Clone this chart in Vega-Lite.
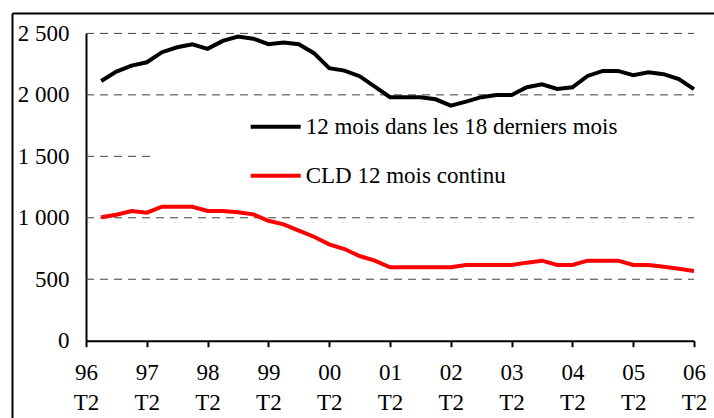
{
  "$schema": "https://vega.github.io/schema/vega-lite/v6.json",
  "width": 702,
  "height": 405,
  "autosize": {"type": "none"},
  "padding": {"left": 12, "top": 13, "right": 0, "bottom": 0},
  "background": "white",
  "config": {"view": {"stroke": null}, "font": "Liberation Serif"},
  "datasets": {
    "series": [
      {"q": 1, "s": "12 mois dans les 18 derniers mois", "v": 2113},
      {"q": 2, "s": "12 mois dans les 18 derniers mois", "v": 2189},
      {"q": 3, "s": "12 mois dans les 18 derniers mois", "v": 2238},
      {"q": 4, "s": "12 mois dans les 18 derniers mois", "v": 2265},
      {"q": 5, "s": "12 mois dans les 18 derniers mois", "v": 2347},
      {"q": 6, "s": "12 mois dans les 18 derniers mois", "v": 2387},
      {"q": 7, "s": "12 mois dans les 18 derniers mois", "v": 2412},
      {"q": 8, "s": "12 mois dans les 18 derniers mois", "v": 2374},
      {"q": 9, "s": "12 mois dans les 18 derniers mois", "v": 2439},
      {"q": 10, "s": "12 mois dans les 18 derniers mois", "v": 2474},
      {"q": 11, "s": "12 mois dans les 18 derniers mois", "v": 2457},
      {"q": 12, "s": "12 mois dans les 18 derniers mois", "v": 2412},
      {"q": 13, "s": "12 mois dans les 18 derniers mois", "v": 2425},
      {"q": 14, "s": "12 mois dans les 18 derniers mois", "v": 2412},
      {"q": 15, "s": "12 mois dans les 18 derniers mois", "v": 2339},
      {"q": 16, "s": "12 mois dans les 18 derniers mois", "v": 2217},
      {"q": 17, "s": "12 mois dans les 18 derniers mois", "v": 2197},
      {"q": 18, "s": "12 mois dans les 18 derniers mois", "v": 2152},
      {"q": 19, "s": "12 mois dans les 18 derniers mois", "v": 2067},
      {"q": 20, "s": "12 mois dans les 18 derniers mois", "v": 1981},
      {"q": 21, "s": "12 mois dans les 18 derniers mois", "v": 1981},
      {"q": 22, "s": "12 mois dans les 18 derniers mois", "v": 1981},
      {"q": 23, "s": "12 mois dans les 18 derniers mois", "v": 1964},
      {"q": 24, "s": "12 mois dans les 18 derniers mois", "v": 1912},
      {"q": 25, "s": "12 mois dans les 18 derniers mois", "v": 1945},
      {"q": 26, "s": "12 mois dans les 18 derniers mois", "v": 1981},
      {"q": 27, "s": "12 mois dans les 18 derniers mois", "v": 1999},
      {"q": 28, "s": "12 mois dans les 18 derniers mois", "v": 1999},
      {"q": 29, "s": "12 mois dans les 18 derniers mois", "v": 2062},
      {"q": 30, "s": "12 mois dans les 18 derniers mois", "v": 2086},
      {"q": 31, "s": "12 mois dans les 18 derniers mois", "v": 2048},
      {"q": 32, "s": "12 mois dans les 18 derniers mois", "v": 2062},
      {"q": 33, "s": "12 mois dans les 18 derniers mois", "v": 2154},
      {"q": 34, "s": "12 mois dans les 18 derniers mois", "v": 2195},
      {"q": 35, "s": "12 mois dans les 18 derniers mois", "v": 2195},
      {"q": 36, "s": "12 mois dans les 18 derniers mois", "v": 2160},
      {"q": 37, "s": "12 mois dans les 18 derniers mois", "v": 2184},
      {"q": 38, "s": "12 mois dans les 18 derniers mois", "v": 2168},
      {"q": 39, "s": "12 mois dans les 18 derniers mois", "v": 2129},
      {"q": 40, "s": "12 mois dans les 18 derniers mois", "v": 2046},
      {"q": 1, "s": "CLD 12 mois continu", "v": 1005},
      {"q": 2, "s": "CLD 12 mois continu", "v": 1025},
      {"q": 3, "s": "CLD 12 mois continu", "v": 1055},
      {"q": 4, "s": "CLD 12 mois continu", "v": 1042},
      {"q": 5, "s": "CLD 12 mois continu", "v": 1090},
      {"q": 6, "s": "CLD 12 mois continu", "v": 1090},
      {"q": 7, "s": "CLD 12 mois continu", "v": 1090},
      {"q": 8, "s": "CLD 12 mois continu", "v": 1055},
      {"q": 9, "s": "CLD 12 mois continu", "v": 1055},
      {"q": 10, "s": "CLD 12 mois continu", "v": 1045},
      {"q": 11, "s": "CLD 12 mois continu", "v": 1028},
      {"q": 12, "s": "CLD 12 mois continu", "v": 976},
      {"q": 13, "s": "CLD 12 mois continu", "v": 947},
      {"q": 14, "s": "CLD 12 mois continu", "v": 895},
      {"q": 15, "s": "CLD 12 mois continu", "v": 846},
      {"q": 16, "s": "CLD 12 mois continu", "v": 784},
      {"q": 17, "s": "CLD 12 mois continu", "v": 746},
      {"q": 18, "s": "CLD 12 mois continu", "v": 689},
      {"q": 19, "s": "CLD 12 mois continu", "v": 651},
      {"q": 20, "s": "CLD 12 mois continu", "v": 597},
      {"q": 21, "s": "CLD 12 mois continu", "v": 597},
      {"q": 22, "s": "CLD 12 mois continu", "v": 597},
      {"q": 23, "s": "CLD 12 mois continu", "v": 597},
      {"q": 24, "s": "CLD 12 mois continu", "v": 597},
      {"q": 25, "s": "CLD 12 mois continu", "v": 616},
      {"q": 26, "s": "CLD 12 mois continu", "v": 616},
      {"q": 27, "s": "CLD 12 mois continu", "v": 616},
      {"q": 28, "s": "CLD 12 mois continu", "v": 616},
      {"q": 29, "s": "CLD 12 mois continu", "v": 635},
      {"q": 30, "s": "CLD 12 mois continu", "v": 651},
      {"q": 31, "s": "CLD 12 mois continu", "v": 616},
      {"q": 32, "s": "CLD 12 mois continu", "v": 616},
      {"q": 33, "s": "CLD 12 mois continu", "v": 651},
      {"q": 34, "s": "CLD 12 mois continu", "v": 651},
      {"q": 35, "s": "CLD 12 mois continu", "v": 651},
      {"q": 36, "s": "CLD 12 mois continu", "v": 616},
      {"q": 37, "s": "CLD 12 mois continu", "v": 616},
      {"q": 38, "s": "CLD 12 mois continu", "v": 602},
      {"q": 39, "s": "CLD 12 mois continu", "v": 586},
      {"q": 40, "s": "CLD 12 mois continu", "v": 567}
    ],
    "grid": [
      {"g": 500, "gx1": 0, "gx2": 40},
      {"g": 1000, "gx1": 0, "gx2": 40},
      {"g": 1500, "gx1": 0, "gx2": 4.35},
      {"g": 2000, "gx1": 0, "gx2": 40},
      {"g": 2500, "gx1": 0, "gx2": 40}
    ],
    "frame": [{"fa": 0, "fb": 0}, {"fa": 1, "fb": 1}]
  },
  "layer": [
    {
      "layer": [
        {
          "data": {"name": "grid"},
          "mark": {"type": "rule", "color": "#404040", "strokeWidth": 1, "strokeDash": [8, 6]},
          "encoding": {
            "y": {"field": "g", "type": "quantitative"},
            "x": {"field": "gx1", "type": "quantitative"},
            "x2": {"field": "gx2"}
          }
        },
        {
          "data": {"name": "series"},
          "mark": {"type": "line", "strokeWidth": 4, "strokeJoin": "miter"},
          "encoding": {
            "x": {
              "field": "q",
              "type": "quantitative",
              "scale": {"domain": [0, 40], "range": [74, 682], "nice": false, "zero": false},
              "axis": {
                "orient": "bottom",
                "offset": -77.3,
                "values": [0, 4, 8, 12, 16, 20, 24, 28, 32, 36, 40],
                "labelExpr": "[slice('0' + ((96 + datum.value / 4) % 100), -2), 'T2']",
                "labelFont": "Liberation Serif",
                "labelFontSize": 23,
                "labelColor": "black",
                "labelLineHeight": 30,
                "labelPadding": 15,
                "labelFlush": false,
                "labelOverlap": false,
                "ticks": true,
                "tickSize": 6,
                "tickWidth": 2,
                "tickColor": "black",
                "domain": true,
                "domainColor": "black",
                "domainWidth": 2,
                "grid": false,
                "title": null
              }
            },
            "y": {
              "field": "v",
              "type": "quantitative",
              "scale": {"domain": [0, 2500], "range": [327.7, 20.4], "nice": false},
              "axis": {
                "orient": "left",
                "offset": -74,
                "values": [0, 500, 1000, 1500, 2000, 2500],
                "labelExpr": "replace(format(datum.value, ','), ',', ' ')",
                "labelFont": "Liberation Serif",
                "labelFontSize": 23,
                "labelColor": "black",
                "labelPadding": 17,
                "labelOverlap": false,
                "ticks": false,
                "domain": true,
                "domainColor": "black",
                "domainWidth": 2,
                "grid": false,
                "title": null
              }
            },
            "color": {
              "field": "s",
              "type": "nominal",
              "scale": {
                "domain": ["12 mois dans les 18 derniers mois", "CLD 12 mois continu"],
                "range": ["black", "#ff0000"]
              },
              "legend": {
                "orient": "none",
                "legendX": 236.7,
                "legendY": 86.7,
                "title": null,
                "padding": 0,
                "symbolType": "stroke",
                "symbolSize": 2500,
                "symbolStrokeWidth": 4,
                "rowPadding": 10,
                "labelOffset": 3,
                "labelFont": "Liberation Serif",
                "labelFontSize": 23,
                "labelColor": "black",
                "labelLimit": 500
              }
            }
          }
        }
      ]
    },
    {
      "data": {"name": "frame"},
      "mark": {"type": "point", "opacity": 0},
      "encoding": {
        "x": {
          "field": "fa",
          "type": "quantitative",
          "scale": {"domain": [0, 1], "nice": false},
          "axis": {"orient": "top", "offset": 0, "domain": true, "domainColor": "black", "domainWidth": 2, "ticks": false, "labels": false, "grid": false, "title": null}
        },
        "y": {
          "field": "fb",
          "type": "quantitative",
          "scale": {"domain": [0, 1], "nice": false},
          "axis": {"orient": "left", "offset": 0, "domain": true, "domainColor": "black", "domainWidth": 2, "ticks": false, "labels": false, "grid": false, "title": null}
        }
      }
    }
  ],
  "resolve": {
    "scale": {"x": "independent", "y": "independent"},
    "axis": {"x": "independent", "y": "independent"}
  }
}
